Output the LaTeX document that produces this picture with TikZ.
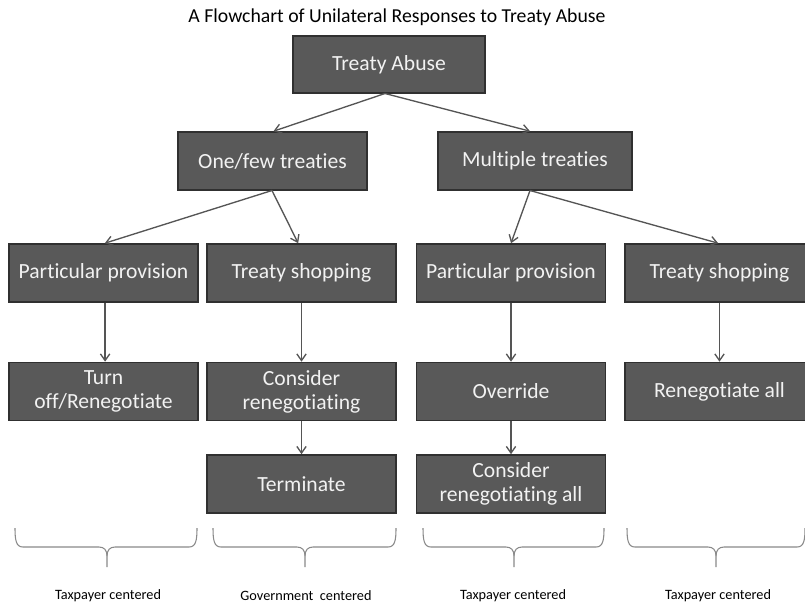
\documentclass[tikz,border=0pt]{standalone}
\usepackage{fontspec}
\setmainfont{Carlito}[Ligatures={NoCommon,NoRare}]
\usetikzlibrary{arrows.meta}
\definecolor{boxfill}{HTML}{595959}
\definecolor{boxline}{HTML}{303030}
\definecolor{boxtext}{HTML}{F2F2F2}
\definecolor{arrowc}{HTML}{555555}
\definecolor{bracec}{HTML}{8A8A8A}
\begin{document}
\begin{tikzpicture}[x=0.75pt,y=-0.75pt,
  box/.style={draw=boxline,line width=1.2pt,fill=boxfill,text=boxtext,
    minimum width=141.75pt,minimum height=43.5pt,inner sep=0pt,align=center,
    font=\fontsize{16.2}{18}\selectfont},
  arr/.style={draw=arrowc,line width=1pt,-{Straight Barb[length=5pt,width=7pt]}},
  brace/.style={draw=bracec,line width=0.8pt},
  lab/.style={font=\fontsize{10.7}{12}\selectfont,text=black,inner sep=0pt}]
\useasboundingbox (0,0) rectangle (805,603);
\fill[white] (0,0) rectangle (805,603);
\node[font=\fontsize{14.8}{16}\selectfont,inner sep=0pt] (title) at (397,17) {A Flowchart of Unilateral Responses to Treaty Abuse};
\node[box,minimum width=144pt,minimum height=42.75pt] (ta) at (389,64.5) {Treaty Abuse};
\node[box] (of) at (272.5,161) {One/few treaties};
\node[box,minimum width=145.5pt] (mt) at (535,161) {Multiple treaties};
\node[box] (pp1) at (103.5,273) {Particular provision};
\node[box] (ts1) at (301.5,273) {Treaty shopping};
\node[box] (pp2) at (511,273) {Particular provision};
\node[box] (ts2) at (719.5,273) {Treaty shopping};
\node[box] (to1) at (103.5,391.5) {Turn\\off/Renegotiate};
\node[box] (cr1) at (301.5,391.5) {Consider\\renegotiating};
\node[box] (ov2) at (511,391.5) {Override};
\node[box] (ra2) at (719.5,391.5) {Renegotiate all};
\node[box] (te1) at (301.5,484) {Terminate};
\node[box] (cra2) at (511,484) {Consider\\renegotiating all};
\coordinate (tas) at (385,93.5);
\coordinate (ofs) at (272,190.5);
\coordinate (mts) at (530,190.5);
\draw[arr] (tas) -- ([xshift=0.75pt]of.north);
\draw[arr] (tas) -- ([xshift=-3.75pt]mt.north);
\draw[arr] (ofs) -- ([xshift=1pt]pp1.north);
\draw[arr] (ofs) -- ([xshift=-2.5pt]ts1.north);
\draw[arr] (mts) -- (pp2.north);
\draw[arr] (mts) -- ([xshift=-1pt]ts2.north);
\draw[arr] ([xshift=1.2pt]pp1.south) -- ([xshift=1.2pt]to1.north);
\draw[arr] (ts1.south) -- (cr1.north);
\draw[arr] (pp2.south) -- (ov2.north);
\draw[arr] (ts2.south) -- (ra2.north);
\draw[arr] (cr1.south) -- (te1.north);
\draw[arr] (ov2.south) -- (cra2.north);
% braces
\foreach \l/\c/\r in {15/107/197, 213/305/396, 423/514/604, 627/716/805}{
  \draw[brace] (\l,528) .. controls (\l,540) and (\l+1,547) .. (\l+8,547)
    -- (\c-8,547) .. controls (\c-3,547) and (\c,550) .. (\c,556) -- (\c,567);
  \draw[brace] (\c,556) .. controls (\c,550) and (\c+3,547) .. (\c+8,547)
    -- (\r-8,547) .. controls (\r-1,547) and (\r,540) .. (\r,528);
}
\node[lab] (l1) at (108,596) {Taxpayer centered};
\node[lab] (l2) at (306,596) {Government\ \ centered};
\node[lab] (l3) at (513,596) {Taxpayer centered};
\node[lab] (l4) at (718,596) {Taxpayer centered};
\end{tikzpicture}
\end{document}
